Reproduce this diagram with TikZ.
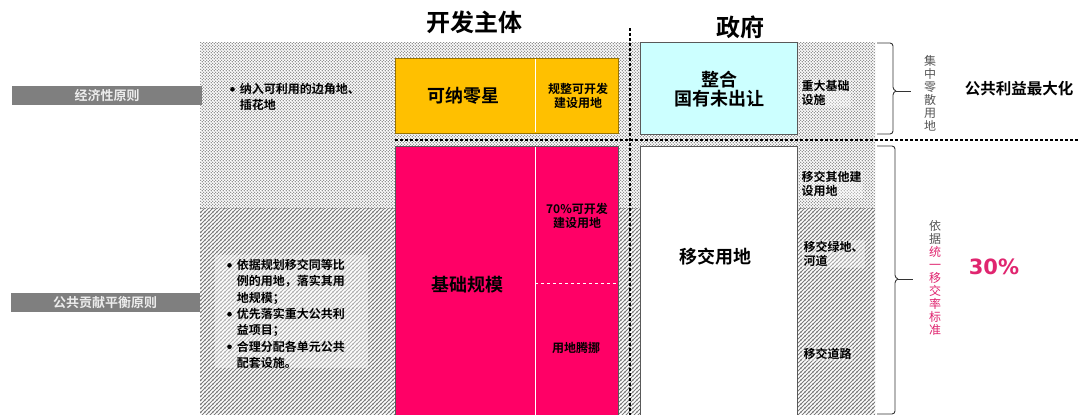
\documentclass[tikz,border=0pt]{standalone}
\usepackage{fontspec}
\setmainfont{Noto Sans CJK SC}[BoldFont={Noto Sans CJK SC Bold}]
\newfontfamily\dejavu{DejaVu Sans}
\usetikzlibrary{patterns,patterns.meta}
\definecolor{orangey}{HTML}{FFC000}
\definecolor{pinky}{HTML}{FF0066}
\definecolor{cyany}{HTML}{CCFFFF}
\definecolor{barg}{HTML}{7F7F7F}
\definecolor{accent}{HTML}{E0256F}
\definecolor{vgray}{HTML}{555555}
\definecolor{dotc}{HTML}{6E6E6E}
\definecolor{hatchc}{HTML}{7A7A7A}
\newcommand{\fs}[2]{\fontsize{#1pt}{#2pt}\selectfont}
\newcommand{\bul}{\raisebox{2pt}{\tikz\fill (0,0) circle (2.3pt);}}
\tikzdeclarepattern{name=stipple, type=uncolored,
  bounding box={(0pt,0pt) and (3.4pt,3.4pt)}, tile size={(3.4pt,3.4pt)},
  code={\fill (0.85pt,0.85pt) circle (0.8pt); \fill (2.55pt,2.55pt) circle (0.8pt);}}
\tikzdeclarepattern{name=hatch, type=uncolored,
  bounding box={(0pt,0pt) and (4.2pt,4.2pt)}, tile size={(4.2pt,4.2pt)},
  code={\draw[line width=1pt] (-0.5pt,-0.5pt) -- (4.7pt,4.7pt);
        \draw[line width=1pt] (-0.5pt,3.7pt) -- (0.5pt,4.7pt);
        \draw[line width=1pt] (3.7pt,-0.5pt) -- (4.7pt,0.5pt);}}
\tikzset{
  title/.style={font=\bfseries\fs{24}{26}, inner sep=0pt},
  bar/.style={fill=barg, draw=none},
  bartext/.style={font=\bfseries\fs{13}{14}, text=gray!15, inner sep=0pt},
  box/.style={draw=gray!70!black, line width=0.6pt},
  bigtext/.style={font=\bfseries\fs{18}{19}, inner sep=0pt, align=center},
  smalltext/.style={font=\bfseries\fs{12}{14}, inner sep=0pt, align=left},
  collabel/.style={font=\bfseries\fs{12}{14.5}, inner sep=1.5pt, align=left, fill=white, fill opacity=0.35, text opacity=1},
  bullettext/.style={font=\bfseries\fs{12}{16.3}, inner sep=0pt, align=left},
  vtext/.style={font=\fs{12}{13}, inner sep=0pt, align=center, text=vgray},
  divider/.style={draw=white, line width=0.6pt},
  sepline/.style={draw=black, line width=1.3pt, dash pattern=on 3pt off 2pt},
  bracepath/.style={draw=gray!40!black, line width=0.9pt, rounded corners=3pt},
}
\begin{document}
\begin{tikzpicture}[x=1pt,y=-1pt]
\useasboundingbox[fill=white] (0,0) rectangle (1080,415);

% backgrounds
\fill[pattern=stipple, pattern color=dotc] (200,42) rectangle (875,208);
\fill[pattern=hatch, pattern color=hatchc] (200,208) rectangle (875,415);
\fill[white, opacity=0.4] (215,255) rectangle (368,368);

% titles
\node[title] (t1) at (474,22) {开发主体};
\node[title] (t2) at (740,27) {政府};

% gray bars
\draw[bar] (12,86) rectangle (202,105);
\node[bartext] (b1) at (107,96) {经济性原则};
\draw[bar] (11,293) rectangle (200,312);
\node[bartext] (b2) at (105,303) {公共贡献平衡原则};

% bullet texts
\node[bullettext, anchor=north west] (u1) at (230,82) {%
\begin{tabular}{@{}l@{\hspace{5pt}}l@{}}\bul & 纳入可利用的边角地、\\ & 插花地\end{tabular}};
\node[bullettext, anchor=north west] (u2) at (227,258) {%
\begin{tabular}{@{}l@{\hspace{5pt}}l@{}}\bul & 依据规划移交同等比\\ & 例的用地，落实其用\\ & 地规模；\\
\bul & 优先落实重大公共利\\ & 益项目；\\
\bul & 合理分配各单元公共\\ & 配套设施。\end{tabular}};

% developer column boxes
\draw[box, fill=orangey, draw=orangey!60!black] (395,58) rectangle (618,133);
\draw[divider] (535,59) -- (535,132);
\node[bigtext] (kn) at (463,96) {可纳零星};
\node[smalltext, align=center] (gz) at (578,96) {规整可开发\\建设用地};

\draw[box, fill=pinky] (395,146) rectangle (618,416);
\draw[divider] (535,147) -- (535,415);
\draw[divider, dashed] (535,283) -- (617,283);
\node[bigtext] (jc) at (467,285) {基础规模};
\node[smalltext, align=center] (qk) at (577,216) {70\%可开发\\建设用地};
\node[smalltext] (ty) at (576,348) {用地腾挪};

% government column boxes
\draw[box, fill=cyany] (640,42) rectangle (797,134);
\node[bigtext] (zh) at (719,89) {整合\\国有未出让};
\draw[box, fill=white] (640,146) rectangle (797,416);
\node[bigtext] (yj) at (715,257) {移交用地};

% right column labels
\node[collabel, anchor=west] (l1) at (800,93) {重大基础\\设施};
\node[collabel, anchor=west] (l2) at (800,184) {移交其他建\\设用地};
\node[collabel, anchor=west] (l3) at (802,254) {移交绿地、\\河道};
\node[collabel, anchor=west] (l4) at (802,354) {移交道路};

% separator lines
\draw[sepline] (630,28) -- (630,415);
\draw[sepline] (395,140) -- (1080,140);

% braces
\draw[bracepath] (877,43) -- (893,43) -- (893,90) -- (896,91);
\draw[bracepath] (877,134) -- (893,134) -- (893,92) -- (896,91);
\draw[gray!40!black, line width=0.9pt] (896,91) -- (911,91);
\draw[bracepath] (877,146) -- (895,146) -- (895,278) -- (898,279);
\draw[bracepath] (877,414) -- (895,414) -- (895,280) -- (898,279);
\draw[gray!40!black, line width=0.9pt] (898,279) -- (913,279);

% right texts
\node[vtext] (v1) at (930,93) {集\\中\\零\\散\\用\\地};
\node[vtext] (v2) at (935,278) {依\\据\\\textcolor{accent}{统}\\\textcolor{accent}{一}\\\textcolor{accent}{移}\\\textcolor{accent}{交}\\\textcolor{accent}{率}\\\textcolor{accent}{标}\\\textcolor{accent}{准}};
\node[font=\bfseries\fs{15.5}{17}, inner sep=0pt] (gg) at (1019,89) {公共利益最大化};
\node[font=\dejavu\bfseries\fs{21}{23}, text=accent, inner sep=0pt] (p30) at (994,267) {30\%};
\end{tikzpicture}
\end{document}
